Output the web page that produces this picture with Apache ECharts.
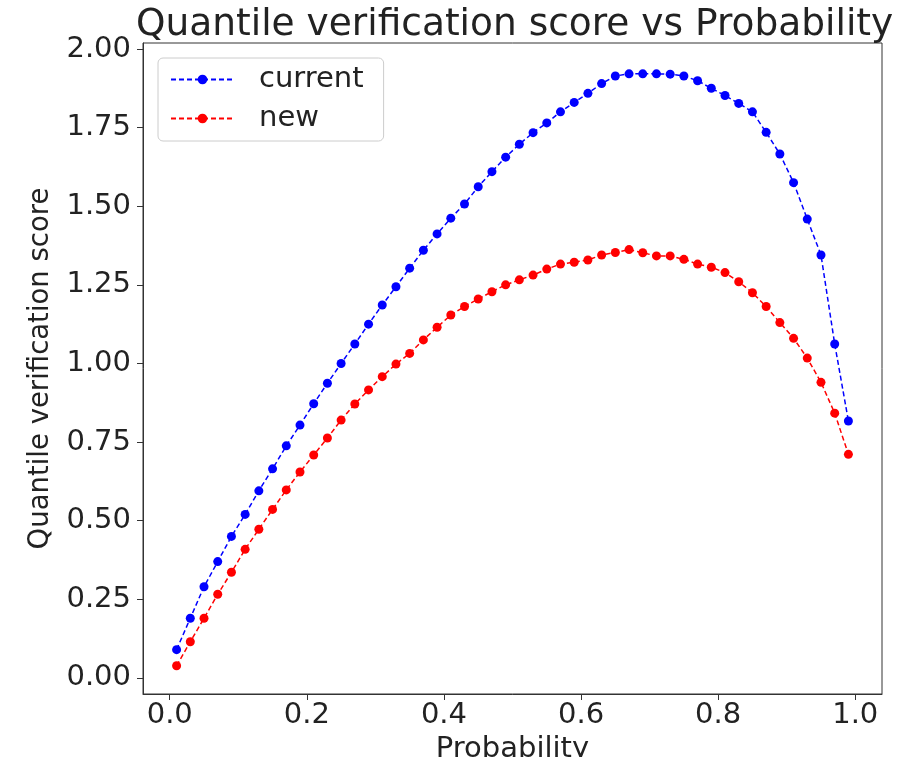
<!DOCTYPE html>
<html>
<head>
<meta charset="utf-8">
<script src="https://cdn.jsdelivr.net/npm/echarts@6/dist/echarts.min.js"></script>
<style>
  html, body { margin: 0; padding: 0; background: #fff; }
  #main { width: 920px; height: 757px; }
</style>
</head>
<body>
<div id="main"></div>
<script>
  // probability levels (x)
  const probs = [0.01, 0.03, 0.05, 0.07, 0.09, 0.11, 0.13, 0.15, 0.17, 0.19,
    0.21, 0.23, 0.25, 0.27, 0.29, 0.31, 0.33, 0.35, 0.37, 0.39,
    0.41, 0.43, 0.45, 0.47, 0.49, 0.51, 0.53, 0.55, 0.57, 0.59,
    0.61, 0.63, 0.65, 0.67, 0.69, 0.71, 0.73, 0.75, 0.77, 0.79,
    0.81, 0.83, 0.85, 0.87, 0.89, 0.91, 0.93, 0.95, 0.97, 0.99]

  // score for the current method
  const currentScore = [0.09, 0.19, 0.29, 0.37, 0.45, 0.52, 0.595, 0.665, 0.738, 0.804,
    0.872, 0.937, 1.0, 1.062, 1.125, 1.186, 1.244, 1.303, 1.36, 1.412,
    1.462, 1.507, 1.562, 1.61, 1.656, 1.697, 1.734, 1.765, 1.8, 1.83,
    1.859, 1.89, 1.914, 1.921, 1.921, 1.921, 1.92, 1.914, 1.899, 1.875,
    1.852, 1.827, 1.8, 1.735, 1.666, 1.575, 1.459, 1.345, 1.062, 0.817]

  // score for the new method
  const newScore = [0.039, 0.115, 0.19, 0.266, 0.336, 0.409, 0.473, 0.536, 0.598, 0.655,
    0.709, 0.763, 0.82, 0.871, 0.916, 0.958, 0.998, 1.032, 1.075, 1.115,
    1.154, 1.181, 1.205, 1.228, 1.25, 1.266, 1.281, 1.3, 1.316, 1.322,
    1.329, 1.345, 1.353, 1.362, 1.352, 1.342, 1.342, 1.331, 1.316, 1.306,
    1.289, 1.26, 1.225, 1.181, 1.13, 1.08, 1.017, 0.94, 0.842, 0.711]

  // tick labels
  const xTicks = [0.0, 0.2, 0.4, 0.6, 0.8, 1.0]
  const yTicks = [0.0, 0.25, 0.5, 0.75, 1.0, 1.25, 1.5, 1.75, 2.0]

  const font = 'DejaVu Sans'
  const ink = '#222'

  function toPairs(ys) {
    return probs.map((p, i) => [p, ys[i]])
  }

  const chart = echarts.init(document.getElementById('main'))
  chart.setOption({
    animation: false,
    title: {
      text: 'Quantile verification score vs Probability',
      left: 131,
      top: 0,
      textStyle: { fontFamily: font, fontSize: 37.5, fontWeight: 'normal', color: ink, lineHeight: 40 }
    },
    legend: {
      orient: 'vertical',
      left: 158,
      top: 58,
      padding: [6, 20, 7, 12],
      itemGap: 8,
      itemWidth: 63,
      itemHeight: 12,
      backgroundColor: 'rgba(255,255,255,0.8)',
      borderColor: '#ccc',
      borderWidth: 1,
      borderRadius: 5,
      textStyle: { fontFamily: font, fontSize: 29, color: ink, lineHeight: 31, padding: [0, 0, 0, 20] },
      data: ['current', 'new']
    },
    grid: {
      left: 143,
      right: 38,
      top: 43,
      bottom: 63,
      outerBoundsMode: 'none',
      show: true,
      borderColor: '#333',
      borderWidth: 1,
      backgroundColor: 'transparent'
    },
    xAxis: {
      type: 'value',
      min: -0.039,
      max: 1.039,
      name: 'Probability',
      nameLocation: 'middle',
      nameGap: 35,
      nameTextStyle: { fontFamily: font, fontSize: 29, color: ink },
      axisLine: { show: true, onZero: false, lineStyle: { color: '#333', width: 1 } },
      axisTick: { show: true, length: 6, customValues: xTicks, lineStyle: { color: '#333' } },
      axisLabel: {
        customValues: xTicks,
        margin: 7,
        fontFamily: font,
        fontSize: 29,
        color: ink,
        formatter: v => v.toFixed(1)
      },
      splitLine: { show: false }
    },
    yAxis: {
      type: 'value',
      min: -0.051,
      max: 2.019,
      name: 'Quantile verification score',
      nameLocation: 'middle',
      nameGap: 88,
      nameTextStyle: { fontFamily: font, fontSize: 27.5, color: ink },
      axisLine: { show: true, onZero: false, lineStyle: { color: '#333', width: 1 } },
      axisTick: { show: true, length: 6, customValues: yTicks, lineStyle: { color: '#333' } },
      axisLabel: {
        customValues: yTicks,
        margin: 12,
        fontFamily: font,
        fontSize: 29,
        color: ink,
        formatter: v => v.toFixed(2)
      },
      splitLine: { show: false }
    },
    series: [
      {
        name: 'current',
        type: 'line',
        data: toPairs(currentScore),
        symbol: 'circle',
        symbolSize: 9,
        itemStyle: { color: '#0000ff' },
        lineStyle: { color: '#0000ff', width: 1.5, type: [5, 3] }
      },
      {
        name: 'new',
        type: 'line',
        data: toPairs(newScore),
        symbol: 'circle',
        symbolSize: 9,
        itemStyle: { color: '#ff0000' },
        lineStyle: { color: '#ff0000', width: 1.5, type: [5, 3] }
      }
    ]
  })
</script>
</body>
</html>
